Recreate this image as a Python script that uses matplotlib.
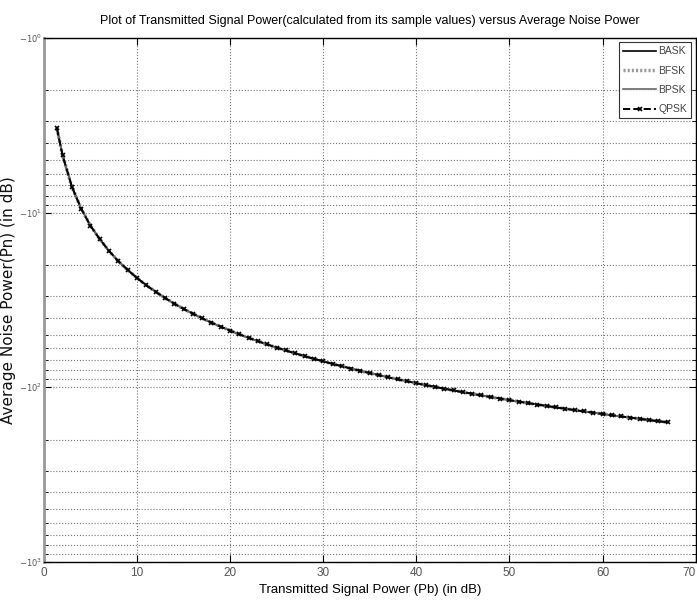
import numpy as np
import matplotlib
matplotlib.use("Agg")
import matplotlib.pyplot as plt
from matplotlib.ticker import LogLocator, FuncFormatter, NullFormatter

# values (Pn in dB, negative, log axis)
pb_db = [1.4, 2, 3, 4, 5, 6, 7, 8, 9, 10, 11, 12, 13, 14, 15, 16, 17, 18, 19, 20,
         21, 22, 23, 24, 25, 26, 27, 28, 29, 30, 31, 32, 33, 34, 35, 36, 37, 38, 39, 40,
         41, 42, 43, 44, 45, 46, 47, 48, 49, 50, 51, 52, 53, 54, 55, 56, 57, 58, 59, 60,
         61, 62, 63, 64, 65, 66, 67]
pn_db = [-3.3, -4.7, -7.1, -9.5, -11.9, -14.2, -16.6, -19.0, -21.3, -23.7,
         -26.1, -28.4, -30.8, -33.2, -35.6, -37.9, -40.3, -42.7, -45.0, -47.4,
         -49.8, -52.1, -54.5, -56.9, -59.3, -61.6, -64.0, -66.4, -68.7, -71.1,
         -73.5, -75.8, -78.2, -80.6, -83.0, -85.3, -87.7, -90.1, -92.4, -94.8,
         -97.2, -99.5, -101.9, -104.3, -106.7, -109.0, -111.4, -113.8, -116.1, -118.5,
         -120.9, -123.2, -125.6, -128.0, -130.4, -132.7, -135.1, -137.5, -139.8, -142.2,
         -144.6, -146.9, -149.3, -151.7, -154.1, -156.4, -158.8]
series = ["BASK", "BFSK", "BPSK", "QPSK"]
xticks = [0, 10, 20, 30, 40, 50, 60, 70]

fnt = ["Liberation Sans", "DejaVu Sans"]

fig = plt.figure(figsize=(6.97, 6.01), dpi=100)
ax = fig.add_axes([0.063, 0.065, 0.935, 0.872])

mag = -np.array(pn_db)
ax.plot(pb_db, mag, color="black", lw=1.2, label=series[0])
ax.plot(pb_db, mag, color="#999999", lw=2.5, ls=(0, (0.6, 0.6)), label=series[1])
ax.plot(pb_db, mag, color="#666666", lw=1.2, label=series[2])
ax.plot(pb_db, mag, color="black", lw=1.4, ls="--", marker="x", ms=3.5, mew=1.2,
        label=series[3])

ax.set_yscale("log")
ax.set_ylim(1, 1000)
ax.invert_yaxis()
ax.set_xlim(0, 70)
ax.set_xticks(xticks)
ax.yaxis.set_major_locator(LogLocator(base=10, numticks=10))
ax.yaxis.set_minor_locator(LogLocator(base=10, subs=np.arange(2, 10), numticks=20))
ax.yaxis.set_major_formatter(FuncFormatter(lambda v, p: r"$-10^{%d}$" % round(np.log10(v))))
ax.yaxis.set_minor_formatter(NullFormatter())

ax.grid(True, which="major", axis="both", ls=":", color="#777777", lw=0.8)
ax.grid(True, which="minor", axis="y", ls=":", color="#777777", lw=0.8)
ax.tick_params(which="both", direction="in", top=True, right=True, labelsize=6,
               labelcolor="#555555")
ax.tick_params(which="major", length=5)
ax.tick_params(which="minor", length=3)
ax.tick_params(axis="y", pad=1.5)
for lab in ax.get_xticklabels():
    lab.set_family(fnt)
    lab.set_fontsize(8.5)
ax.get_xticklabels()[-1].set_horizontalalignment("right")
for s in ax.spines.values():
    s.set_linewidth(1.0)
ax.spines["left"].set_color("#999999")
ax.spines["left"].set_linewidth(2.0)

ax.set_title("Plot of Transmitted Signal Power(calculated from its sample values) versus Average Noise Power",
             family=fnt, fontsize=9, pad=10)
ax.set_xlabel("Transmitted Signal Power (Pb) (in dB)", family=fnt, fontsize=9.5, labelpad=4)
ax.set_ylabel("Average Noise Power(Pn) (in dB)", family="DejaVu Sans", fontsize=11,
              color="#111111")
ax.yaxis.set_label_coords(-0.043, 0.5)

leg = ax.legend(loc="upper right", handlelength=3.2, frameon=True,
                fancybox=False, edgecolor="black", borderaxespad=0.4,
                labelspacing=0.9, handletextpad=0.2, prop={"family": fnt, "size": 7.5})
leg.get_frame().set_linewidth(0.8)
for t in leg.get_texts():
    t.set_color("#444444")

fig.savefig("out.png", dpi=100)
